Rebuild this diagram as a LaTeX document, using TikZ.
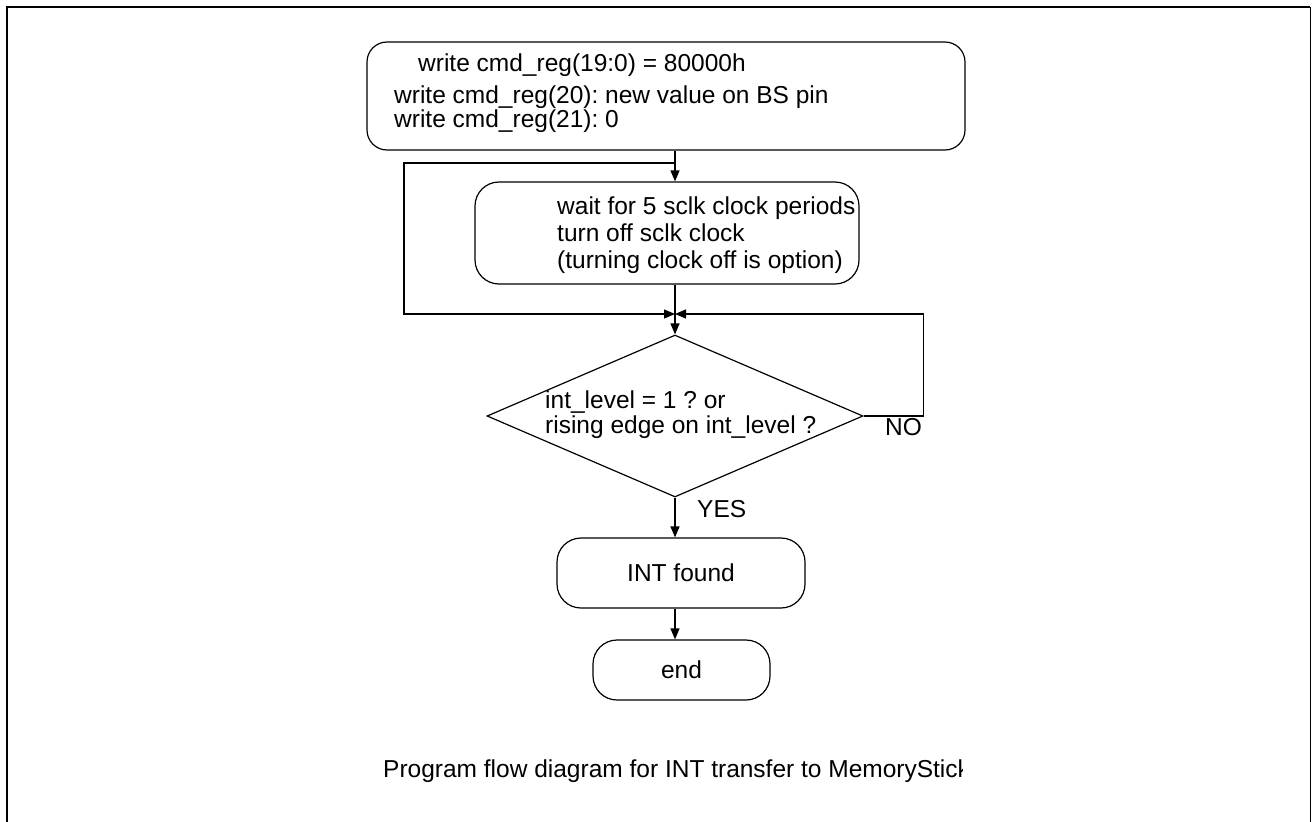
\documentclass[tikz,border=0pt]{standalone}
\usepackage{fontspec}
\setmainfont{Liberation Sans}
\usetikzlibrary{shapes.geometric,arrows.meta}
\frenchspacing
\begin{document}
\begin{tikzpicture}[x=1pt,y=-1pt,
  every node/.style={font=\fontsize{24.5}{27}\selectfont},
  box/.style={draw,line width=1.2pt,rounded corners=24pt,inner sep=0pt},
  txt/.style={inner sep=0pt,anchor=base west},
  arr/.style={line width=1.2pt,-{Triangle[length=11pt,width=9pt]}},
  conn/.style={line width=1.2pt}]
\useasboundingbox (0,0) rectangle (1312,822);
% frame
\draw[line width=2.2pt] (7,822) -- (7,7) -- (1310,7);
\draw[line width=1.4pt] (1310.5,7) -- (1310.5,822);
% top box
\node[box,rounded corners=20pt,minimum width=598pt,minimum height=108pt] (init) at (666,96) {};
\node[txt] (initA) at (418,71) {write cmd\_reg(19:0) = 80000h};
\node[txt] (initB) at (394,103) {write cmd\_reg(20): new value on BS pin};
\node[txt] (initC) at (394,127) {write cmd\_reg(21): 0};
% wait box
\node[box,minimum width=384pt,minimum height=102pt] (wait) at (667,233) {};
\node[txt] (waitA) at (557,214) {wait for 5 sclk clock periods};
\node[txt] (waitB) at (557,241) {turn off sclk clock};
\node[txt] (waitC) at (557,268) {(turning clock off is option)};
% decision
\node[draw,diamond,line width=1.2pt,minimum width=376pt,minimum height=162pt,inner sep=0pt] (dec) at (675,416) {};
\node[txt] (decA) at (545,408) {int\_level = 1 ? or};
\node[txt] (decB) at (545,433) {rising edge on int\_level ?};
% result boxes
\node[box,minimum width=248pt,minimum height=70pt] (found) at (681,573) {INT found};
\node[box,minimum width=177pt,minimum height=60pt] (stop) at (681.5,670) {end};
% connectors
\coordinate (spine) at (675,0);
\coordinate (split) at (675,163);
\coordinate (join) at (675,314);
\draw[arr] (init.south -| spine) -- (wait.north -| spine);
\draw[arr] (split) -- ++(-271,0) |- (join);
\draw[conn] (wait.south -| spine) -- (join);
\draw[arr] (join) -- (dec.north);
\draw[arr] (dec.east) -- ++(60,0) |- (join);
\draw[arr] (dec.south) -- (found.north -| spine);
\draw[arr] (found.south -| spine) -- (stop.north -| spine);
\node[txt] (yes) at (697,517) {YES};
\node[txt] (no) at (885,435) {NO};
% caption
\begin{scope}
\clip (0,0) rectangle (962,822);
\node[txt] (caption) at (383,777) {Program flow diagram for INT transfer to MemoryStick};
\end{scope}
\end{tikzpicture}
\end{document}
